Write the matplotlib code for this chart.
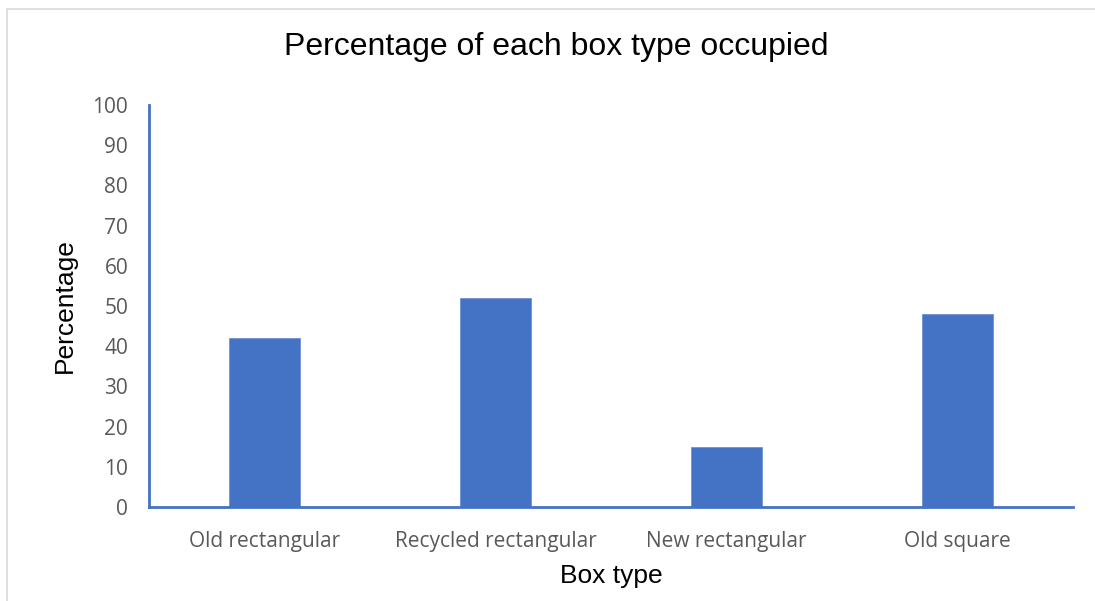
import matplotlib
matplotlib.use("Agg")
import matplotlib.pyplot as plt
from matplotlib.patches import Rectangle

categories = ["Old rectangular", "Recycled rectangular", "New rectangular", "Old square"]
percentages = [42, 52, 15, 48]
y_ticks = [0, 10, 20, 30, 40, 50, 60, 70, 80, 90, 100]

BLUE = "#4472C4"
GRAY = "#595959"

W, H = 1095, 601
fig = plt.figure(figsize=(W / 100, H / 100), dpi=100)

# light frame around the chart area
fig.patches.append(Rectangle((7 / W, -0.1), 1.2, (H - 9) / H + 0.1,
                             transform=fig.transFigure, fill=False,
                             edgecolor="#D9D9D9", linewidth=1.2))

ax = fig.add_axes([149 / W, (H - 507) / H, (1073 - 149) / W, (507 - 105) / H])
x = range(len(categories))
ax.bar(x, percentages, width=0.31, color=BLUE, edgecolor="#6E92D6", linewidth=0.6, zorder=2)

ax.set_xlim(-0.5, len(categories) - 0.5)
ax.set_ylim(0, 100)
ax.set_yticks(y_ticks)
ax.set_xticks(list(x))
ax.set_xticklabels(categories)

for side in ("top", "right"):
    ax.spines[side].set_visible(False)
for side in ("left", "bottom"):
    ax.spines[side].set_color(BLUE)
    ax.spines[side].set_linewidth(2)

ax.tick_params(axis="both", length=0, colors=GRAY, labelsize=15)
ax.tick_params(axis="x", pad=17)
ax.tick_params(axis="y", pad=15)
for lab in ax.get_xticklabels() + ax.get_yticklabels():
    lab.set_fontfamily("Open Sans")

ax.set_xlabel("Box type", fontsize=19, family="Liberation Sans", labelpad=9)
ax.set_ylabel("Percentage", fontsize=19, family="Liberation Sans", labelpad=11)
fig.text(556 / W, 1 - 47 / H, "Percentage of each box type occupied",
         ha="center", va="center", fontsize=23, family="Liberation Sans")

fig.savefig("out.png", dpi=100)
